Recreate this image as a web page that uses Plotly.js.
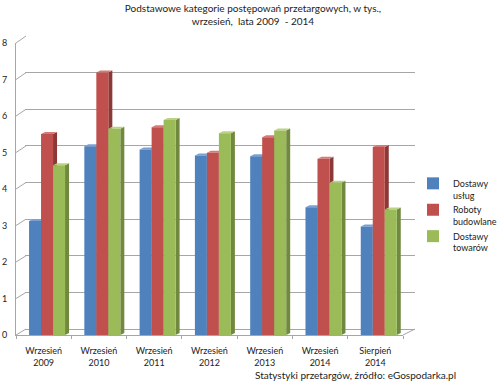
<!DOCTYPE html>
<html>
<head>
<meta charset="utf-8">
<script src="https://cdn.plot.ly/plotly-3.0.1.min.js"></script>
<style>html,body{margin:0;padding:0;background:#fff;}#chart{width:500px;height:389px;}</style>
</head>
<body>
<div id="chart"></div>
<script>
// ---- data ----
const categories = ['Wrzesień<br>2009', 'Wrzesień<br>2010', 'Wrzesień<br>2011', 'Wrzesień<br>2012', 'Wrzesień<br>2013', 'Wrzesień<br>2014', 'Sierpień<br>2014'];
const seriesNames = ['Dostawy<br>usług', 'Roboty<br>budowlane', 'Dostawy<br>towarów'];
const dostawyUslug = [3.12, 5.17, 5.08, 4.92, 4.90, 3.50, 2.97];
const robotyBudowlane = [5.51, 7.19, 5.69, 4.99, 5.42, 4.83, 5.15];
const dostawyTowarow = [4.65, 5.65, 5.89, 5.53, 5.60, 4.17, 3.44];
const yTicks = [0, 1, 2, 3, 4, 5, 6, 7, 8];

// ---- styling ----
const W = 500, H = 389;
const L = 16, R = 85, T = 36, B = 54;
const plotW = W - L - R, plotH = H - T - B;   // 399 x 299
const frontW = 387, frontH = 292;             // front plane
const depthX = 9, depthY = 6;                 // wall offset
const gridColor = '#a6a6a6';
const fronts = ['#4F81BD', '#C0504D', '#9BBB59'];
const sides = ['#385D8A', '#8C3836', '#71893F'];
const tops = ['#7aa0d4', '#d77a77', '#b9d283'];
const offsets = [-0.264, -0.047, 0.170];
const barW = 0.217;
const font = 'Lato, "Open Sans", sans-serif';

const values = [dostawyUslug, robotyBudowlane, dostawyTowarow];

// back wall subplot (gridlines only)
const traces = [{
  x: [0, 1], y: [0, 0], xaxis: 'x', yaxis: 'y', type: 'scatter', mode: 'markers',
  marker: {opacity: 0}, showlegend: false, hoverinfo: 'skip'
}];
// front plane: the bars
values.forEach((v, k) => {
  traces.push({
    type: 'bar', x: categories, y: v, name: seriesNames[k],
    xaxis: 'x2', yaxis: 'y2', offset: offsets[k], width: barW,
    marker: {color: fronts[k], line: {width: 0}}
  });
});

// 3D side/top faces computed from the data values
const catPx = frontW / categories.length;
const valPx = frontH / 8;
const dx = 4 / catPx, dy = 2 / valPx;
const shapes = [];
values.forEach((v, k) => {
  v.forEach((val, i) => {
    const xl = i + offsets[k], xr = xl + barW;
    shapes.push({type: 'path', xref: 'x2', yref: 'y2', layer: 'below',
      path: `M${xr},0 L${xr},${val} L${xr + dx},${val + dy} L${xr + dx},${dy} Z`,
      fillcolor: sides[k], line: {width: 0}});
    shapes.push({type: 'path', xref: 'x2', yref: 'y2', layer: 'below',
      path: `M${xl},${val} L${xr},${val} L${xr + dx},${val + dy} L${xl + dx},${val + dy} Z`,
      fillcolor: tops[k], line: {width: 0}});
  });
});
// wall/floor diagonals (paper coordinates)
const py = p => (H - B - p) / plotH;
const px = p => (p - L) / plotW;
yTicks.forEach(t => {
  const yf = (H - B) - t * frontH / 8;
  const yb = (H - B - depthY) - t * (frontH + 1) / 8;
  shapes.push({type: 'line', xref: 'paper', yref: 'paper', layer: 'above',
    x0: px(L), y0: py(yf), x1: px(L + depthX + 1), y1: py(yb), line: {color: gridColor, width: 1}});
});
shapes.push({type: 'line', xref: 'paper', yref: 'paper', layer: 'above',
  x0: px(L + frontW), y0: py(H - B), x1: px(L + frontW + depthX + 3), y1: py(H - B - depthY),
  line: {color: gridColor, width: 1}});

const layout = {
  width: W, height: H,
  margin: {l: L, r: R, t: T, b: B, pad: 0, autoexpand: false},
  paper_bgcolor: '#fff', plot_bgcolor: 'rgba(0,0,0,0)',
  font: {family: font, size: 9, color: '#222'},
  title: {text: 'Podstawowe kategorie postępowań przetargowych, w tys.,<br>wrzesień,  lata 2009  - 2014',
    x: 253 / W, xanchor: 'center', y: 1 - 12 / H, yanchor: 'top', yref: 'container',
    font: {family: font, size: 10, color: '#222'}},
  barmode: 'overlay',
  showlegend: true,
  legend: {xref: 'paper', yref: 'paper', x: px(413), y: py(171), yanchor: 'top',
    valign: 'top', font: {family: font, size: 9, color: '#222'}, tracegroupgap: 9,
    bgcolor: 'rgba(0,0,0,0)', borderwidth: 0},
  xaxis: {domain: [depthX / plotW, 1], range: [0, 1], showgrid: false, zeroline: false,
    showticklabels: false, showline: false, fixedrange: true},
  yaxis: {domain: [depthY / plotH, 1], range: [0, 8], tickvals: yTicks, showgrid: true,
    gridcolor: gridColor, gridwidth: 1, zeroline: true, zerolinecolor: gridColor, zerolinewidth: 1,
    showticklabels: false, showline: false, fixedrange: true},
  xaxis2: {domain: [0, frontW / plotW], anchor: 'y2', type: 'category', showgrid: false,
    showline: true, linecolor: gridColor, linewidth: 1, ticks: 'outside', tickson: 'boundaries',
    ticklen: 3, tickcolor: gridColor, tickangle: 0, ticklabelstandoff: 7,
    tickfont: {family: font, size: 9, color: '#222'}, fixedrange: true},
  yaxis2: {domain: [0, frontH / plotH], anchor: 'x2', range: [0, 8], tickvals: yTicks,
    showgrid: false, zeroline: false, showline: true, linecolor: gridColor, linewidth: 1,
    ticks: '', ticklabelstandoff: 6, tickfont: {family: font, size: 9, color: '#222'}, fixedrange: true},
  shapes: shapes,
  annotations: [{text: 'Statystyki przetargów, źródło: eGospodarka.pl', xref: 'paper', yref: 'paper',
    x: px(355), y: py(375), xanchor: 'center', yanchor: 'middle', showarrow: false,
    font: {family: font, size: 10, color: '#222'}}]
};

Plotly.newPlot('chart', traces, layout, {displayModeBar: false, staticPlot: true});
</script>
</body>
</html>
